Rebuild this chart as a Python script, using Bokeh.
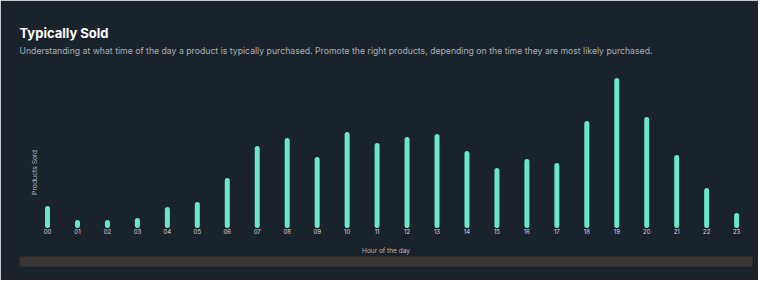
from math import pi
from bokeh.plotting import figure
from bokeh.models import Range1d, FixedTicker, LinearAxis, Label, Title, ColumnDataSource
from bokeh.embed import file_html
from bokeh.resources import INLINE

hours = ["00", "01", "02", "03", "04", "05", "06", "07", "08", "09", "10", "11",
         "12", "13", "14", "15", "16", "17", "18", "19", "20", "21", "22", "23"]
sold = [17, 3, 3, 5, 16, 21, 45, 77, 85, 66, 91, 80,
        86, 89, 72, 55, 64, 60, 102, 145, 106, 68, 35, 10]

BG = "#1a232b"
BAR = "#6ae6c8"
FONT = "Inter"

idx = list(range(len(hours)))
src = ColumnDataSource(dict(x=idx, y0=[0] * len(idx), y1=sold))

p = figure(width=758, height=280, output_backend="svg", toolbar_location=None,
           y_axis_location=None,
           x_range=Range1d(-0.935, 23.53), y_range=Range1d(-3, 169),
           min_border_left=19, min_border_right=6, min_border_bottom=52,
           min_border_top=56)
p.background_fill_color = BG
p.border_fill_color = BG
p.outline_line_color = BG
p.outline_line_width = 2
p.grid.visible = False

sub = Title(text="Understanding at what time of the day a product is typically purchased. "
                 "Promote the right products, depending on the time they are most likely purchased.",
            text_font=FONT, text_font_size="8.7px", text_font_style="normal",
            text_color="#a9b0b6", align="left", standoff=1)
p.add_layout(sub, "above")
ttl = Title(text="Typically Sold", text_font=FONT, text_font_size="13px",
            text_font_style="bold", text_color="#ffffff", align="left", standoff=6)
p.add_layout(ttl, "above")

p.segment(x0="x", y0="y0", x1="x", y1="y1", source=src,
          line_color=BAR, line_width=5, line_cap="round")

xa = p.xaxis[0]
xa.ticker = FixedTicker(ticks=idx)
xa.major_label_overrides = {i: h for i, h in zip(idx, hours)}
xa.major_label_text_font = FONT
xa.major_label_text_font_size = "6px"
xa.major_label_text_font_style = "normal"
xa.major_label_text_color = "#d8dce0"
xa.major_label_standoff = 0
xa.axis_line_color = None
xa.major_tick_line_color = None
xa.minor_tick_line_color = None
xa.major_tick_out = 0
xa.minor_tick_out = 0
xa.axis_label = "Hour of the day"
xa.axis_label_text_font = FONT
xa.axis_label_text_font_size = "6.5px"
xa.axis_label_text_font_style = "normal"
xa.axis_label_text_color = "#b5bcc2"
xa.axis_label_standoff = 10

# empty spacer axis so the band sits just under the axis title
spacer = LinearAxis(ticker=FixedTicker(ticks=[]), major_label_text_font_size="0px",
                    axis_line_color=None, major_tick_out=0, minor_tick_out=0,
                    major_tick_line_color=None, minor_tick_line_color=None,
                    axis_label=" ", axis_label_text_font_size="1px",
                    axis_label_standoff=0)
p.add_layout(spacer, "below")

band = LinearAxis(ticker=FixedTicker(ticks=[]), major_label_text_font_size="0px",
                  axis_line_width=10, axis_line_color="#3a3531",
                  major_tick_out=0, minor_tick_out=0,
                  major_tick_line_color=None, minor_tick_line_color=None)
p.add_layout(band, "below")

p.add_layout(Label(x=-0.434, y=53, text="Products Sold", angle=pi / 2,
                   text_font=FONT, text_font_size="6.8px", text_color="#a9b0b6",
                   text_align="center", text_baseline="middle"))

open("out.html", "w").write(file_html(p, INLINE))
